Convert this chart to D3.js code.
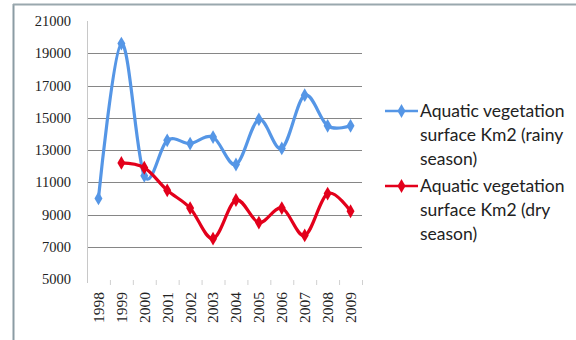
<!DOCTYPE html>
<html>
<head>
<meta charset="utf-8">
<script src="https://cdn.jsdelivr.net/npm/d3@7/dist/d3.min.js"></script>
<style>
  html, body { margin: 0; padding: 0; background: #fff; }
  svg { display: block; }
</style>
</head>
<body>
<svg id="chart" width="576" height="340"></svg>
<script>
// Years on the category axis
const years = ["1998","1999","2000","2001","2002","2003","2004","2005","2006","2007","2008","2009"];
// Aquatic vegetation surface (km2), rainy season
const rainy = [10000, 19600, 11400, 13600, 13400, 13800, 12100, 14900, 13100, 16400, 14500, 14500];
// Aquatic vegetation surface (km2), dry season (no 1998 value)
const dry = [null, 12200, 11900, 10500, 9400, 7500, 9900, 8500, 9400, 7700, 10300, 9200];
// Value axis ticks
const yTicks = [5000, 7000, 9000, 11000, 13000, 15000, 17000, 19000, 21000];
const seriesNames = [
  ["Aquatic vegetation", "surface Km2 (rainy", "season)"],
  ["Aquatic vegetation", "surface Km2 (dry", "season)"]
];
const colors = ["#5596e6", "#e3001b"];

const svg = d3.select("#chart");

// outer frame (left and top edges)
svg.append("line").attr("x1", 13.5).attr("x2", 13.5).attr("y1", 4).attr("y2", 340)
  .attr("stroke", "#8b9ca4").attr("stroke-width", 2);
svg.append("line").attr("x1", 13).attr("x2", 576).attr("y1", 4.5).attr("y2", 4.5)
  .attr("stroke", "#9aa8ae").attr("stroke-width", 2);

const plot = { left: 87, right: 362, top: 21, bottom: 279 };

const x = d3.scaleBand().domain(years).range([plot.left, plot.right]);
const y = d3.scaleLinear().domain([5000, 21000]).range([plot.bottom, plot.top]);

// horizontal gridlines
svg.append("g").selectAll("line")
  .data(yTicks.filter(t => t > 5000 && t < 21000))
  .join("line")
  .attr("x1", plot.left).attr("x2", plot.right)
  .attr("y1", d => Math.round(y(d)) + 0.5).attr("y2", d => Math.round(y(d)) + 0.5)
  .attr("stroke", "#868686").attr("stroke-width", 1.2);

// value axis line
svg.append("line")
  .attr("x1", plot.left + 0.5).attr("x2", plot.left + 0.5)
  .attr("y1", plot.top).attr("y2", plot.bottom + 4)
  .attr("stroke", "#c8c8c8").attr("stroke-width", 1);

// value axis labels
const yAxis = d3.axisLeft(y).tickValues(yTicks).tickSize(0).tickPadding(16).tickFormat(d3.format("d"));
const gy = svg.append("g").attr("transform", `translate(${plot.left},0)`).call(yAxis);
gy.select(".domain").remove();
gy.selectAll("text")
  .attr("font-family", "'Liberation Serif', 'DejaVu Serif', serif")
  .attr("font-size", 14.5).attr("fill", "#222");

// category axis: light tick marks between categories and rotated year labels
const xAxis = d3.axisBottom(x).tickSize(0).tickPadding(0);
const gx = svg.append("g").attr("transform", `translate(0,${plot.bottom})`).call(xAxis);
gx.select(".domain").remove();
gx.selectAll("text")
  .attr("font-family", "'Liberation Serif', 'DejaVu Serif', serif")
  .attr("font-size", 15.5).attr("fill", "#222")
  .attr("text-anchor", "end")
  .attr("dy", "0.35em")
  .attr("transform", "translate(0,13) rotate(-90)");

svg.append("g").selectAll("line")
  .data(years.slice(1).concat(["end"]))
  .join("line")
  .attr("x1", (d, i) => plot.left + x.step() * (i + 1) + 0.5)
  .attr("x2", (d, i) => plot.left + x.step() * (i + 1) + 0.5)
  .attr("y1", plot.bottom + 1).attr("y2", plot.bottom + 6)
  .attr("stroke", "#d0d0d0").attr("stroke-width", 1);

const cx = d => x(d) + x.bandwidth() / 2;

// smoothed series lines with diamond markers
const line = d3.line()
  .defined(d => d.v != null)
  .x(d => cx(d.year))
  .y(d => y(d.v))
  .curve(d3.curveCatmullRom.alpha(0));

const diamond = d3.symbol().type(d3.symbolDiamond).size(55);

[rainy, dry].forEach((vals, s) => {
  const pts = years.map((yr, i) => ({ year: yr, v: vals[i] }));
  svg.append("path")
    .datum(pts.filter(p => p.v != null))
    .attr("d", line)
    .attr("fill", "none")
    .attr("stroke", colors[s])
    .attr("stroke-width", 3.2)
    .attr("stroke-linejoin", "round");
  svg.append("g").selectAll("path")
    .data(pts.filter(p => p.v != null))
    .join("path")
    .attr("d", diamond)
    .attr("transform", p => `translate(${cx(p.year)},${y(p.v)})`)
    .attr("fill", colors[s]);
});

// legend
const legend = svg.append("g");
const legendTop = [111, 186];
seriesNames.forEach((lines, s) => {
  const ly = legendTop[s];
  legend.append("line")
    .attr("x1", 385).attr("x2", 418).attr("y1", ly).attr("y2", ly)
    .attr("stroke", colors[s]).attr("stroke-width", 2.5);
  legend.append("path")
    .attr("d", diamond)
    .attr("transform", `translate(401.5,${ly})`)
    .attr("fill", colors[s]);
  lines.forEach((t, k) => {
    legend.append("text")
      .attr("x", 420).attr("y", ly + 6 + k * 24)
      .attr("font-family", "Lato, 'Open Sans', sans-serif")
      .attr("font-size", 17.5).attr("fill", "#222")
      .text(t);
  });
});
</script>
</body>
</html>
